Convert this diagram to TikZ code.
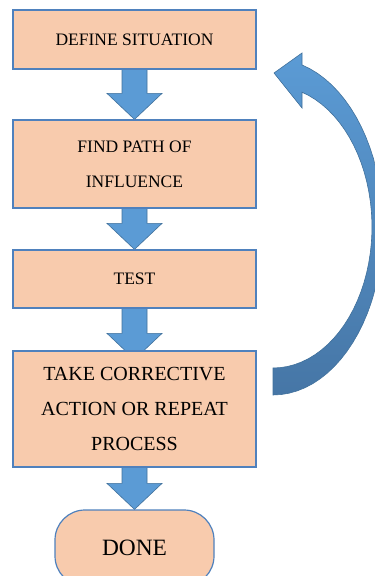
\documentclass[tikz,border=0pt]{standalone}
\usepackage{fontspec}
\setmainfont{Liberation Serif}
\usetikzlibrary{calc,backgrounds}
\definecolor{peach}{HTML}{F8CBAD}
\definecolor{boxline}{HTML}{4F81BD}
\definecolor{arrowfill}{HTML}{5B9BD5}
\definecolor{arrowline}{HTML}{41719C}
\definecolor{arrowdark}{HTML}{4676A6}
\tikzset{
  stepbox/.style={draw=boxline, fill=peach, line width=1.2pt, inner sep=0pt,
    minimum width=243pt, align=center, font=\fontsize{17.5}{35}\selectfont},
  arrowblue/.style={draw=arrowline, fill=arrowfill, line width=0.6pt, xshift=3pt},
  loopshade/.style={draw=arrowline, top color=arrowfill, bottom color=arrowdark,
    line width=0.6pt}
}
% block arrow from #2 down to #3, tip pushed #1 into the lower box
\newcommand{\flowarrow}[3][0]{%
  \draw[arrowblue] ($(#2.south)+(-12.5,0)$) -- ($(#2.south)+(12.5,0)$)
    -- ($(#3.north)+(12.5,{#1-26})$) -- ($(#3.north)+(27.5,{#1-26})$)
    -- ($(#3.north)+(0,#1)$) -- ($(#3.north)+(-27.5,{#1-26})$)
    -- ($(#3.north)+(-12.5,{#1-26})$) -- cycle;}
\begin{document}
\begin{tikzpicture}[x=1pt,y=-1pt]
  \useasboundingbox (0,0) rectangle (375,576);
  \node[stepbox, minimum height=59pt] (define) at (134.5,39.5) {DEFINE SITUATION};
  \node[stepbox, minimum height=88pt] (path) at (134.5,164) {FIND PATH OF\\INFLUENCE};
  \node[stepbox, minimum height=58pt] (test) at (134.5,279) {TEST};
  \node[stepbox, minimum height=116pt, font=\fontsize{20}{35}\selectfont] (action)
    at (134.5,409) {TAKE CORRECTIVE\\ACTION OR REPEAT\\PROCESS};
  \node[stepbox, minimum width=159pt, minimum height=76pt, rounded corners=30pt,
    font=\fontsize{23.4}{28}\selectfont] (done) at (134.5,548) {DONE};
  \begin{scope}[on background layer]
    \flowarrow{define}{path}
    \flowarrow{path}{test}
    \flowarrow[9]{test}{action}
    \flowarrow{action}{done}
  \end{scope}
  % loop back to the start
  \draw[loopshade] (273,395)
    -- plot[domain=90:-74.7, samples=40, variable=\t] ({273+110*cos(\t)},{227+168*sin(\t)})
    -- (302,53) -- (274,73) -- (302,108) -- (302,93)
    -- plot[domain=-73:90, samples=40, variable=\t] ({273+99*cos(\t)},{227+141*sin(\t)})
    -- cycle;
\end{tikzpicture}
\end{document}
